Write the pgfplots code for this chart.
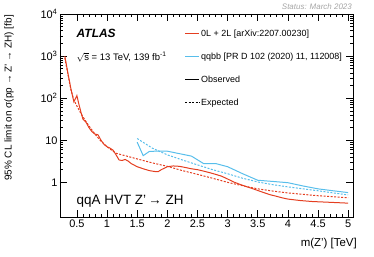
\documentclass[border=0pt]{standalone}
\usepackage{fontspec}
\setmainfont{Liberation Sans}
\usepackage{pgfplots}
\pgfplotsset{compat=1.18}
\usetikzlibrary{calc}

\definecolor{atred}{RGB}{228,62,32}
\definecolor{atblue}{RGB}{88,190,235}
\definecolor{statgray}{RGB}{165,165,165}

\pgfplotstableread{
m    lim
0.30 1000
0.35 400
0.40 170
0.45 82
0.50 115
0.53 75
0.57 45
0.60 32
0.65 27
0.70 20
0.75 16
0.80 14
0.85 13.5
0.90 10
0.95 8
1.00 7
1.05 6.5
1.10 5.8
1.15 4.5
1.20 3.4
1.25 3.3
1.30 3.5
1.35 3.2
1.40 2.8
1.50 2.35
1.60 2.1
1.70 1.9
1.80 1.8
1.85 1.8
1.90 2.0
2.00 2.35
2.10 2.45
2.20 2.4
2.30 2.25
2.40 2.1
2.50 2.0
2.60 1.85
2.70 1.7
2.80 1.55
2.90 1.4
3.00 1.2
3.10 1.02
3.20 0.9
3.30 0.8
3.40 0.72
3.50 0.64
3.60 0.57
3.70 0.51
3.80 0.47
3.90 0.43
4.00 0.40
4.20 0.37
4.40 0.35
4.60 0.34
4.80 0.33
5.00 0.32
}\redobs

\pgfplotstableread{
m    lim
0.30 900
0.35 380
0.40 160
0.45 90
0.50 65
0.55 48
0.60 36
0.65 28
0.70 22
0.75 17.5
0.80 14
0.85 11.5
0.90 9.5
0.95 8.2
1.00 7
1.05 6.2
1.10 5.5
1.15 4.9
1.30 4.3
1.50 3.6
1.75 2.9
2.00 2.4
2.25 1.9
2.50 1.55
2.75 1.25
3.00 1.0
3.25 0.83
3.50 0.70
3.75 0.62
4.00 0.56
4.50 0.48
5.00 0.43
}\redexp

\pgfplotstableread{
m    lim
1.50 9
1.60 4.3
1.70 5.4
1.80 5.5
2.00 5.5
2.20 4.8
2.40 4.2
2.60 2.8
2.80 2.8
3.00 2.35
3.25 1.6
3.50 1.12
3.75 1.05
4.00 0.98
4.25 0.82
4.50 0.70
4.75 0.63
5.00 0.57
}\blueobs

\pgfplotstableread{
m    lim
1.50 11
1.75 6.5
2.00 4.5
2.25 3.4
2.50 2.6
2.75 2.0
3.00 1.6
3.25 1.25
3.50 1.02
3.75 0.88
4.00 0.78
4.50 0.63
5.00 0.50
}\blueexp

\begin{document}
\begin{tikzpicture}
\begin{axis}[
  name=ax,
  scale only axis,
  width=293bp, height=203bp,
  ymode=log,
  xmin=0.22, xmax=5.08,
  ymin=0.15, ymax=10000,
  xtick={0.5,1,...,5},
  minor x tick num=4,
  ytick={1,10,100,1000,10000},
  yticklabels={1,10,10\textsuperscript{2},10\textsuperscript{3},10\textsuperscript{4}},
  tick align=inside,
  major tick length=7bp,
  minor tick length=3.5bp,
  tick style={black, line width=0.5pt},
  axis line style={line width=0.6pt},
  /pgf/number format/assume math mode=true,
  tick label style={font=\fontsize{11}{13}\selectfont},
  xticklabel style={yshift=1bp},
  yticklabel style={xshift=1bp},
  legend image code/.code={\draw[#1] (0bp,0bp) -- (14bp,0bp);},
  legend style={at={(rel axis cs:0.425,0.925)}, anchor=north west,
    draw=none, fill=none, inner sep=0pt,
    font=\fontsize{9}{10}\selectfont, row sep=14bp,
    nodes={inner xsep=1.5bp, inner ysep=0pt, text height=7bp, text depth=2bp}},
  legend cell align=left,
]
\addplot[atred, line width=1pt, forget plot] table[x=m, y=lim] {\redobs};
\addplot[atred, line width=1pt, dash pattern=on 2pt off 1.5pt, forget plot] table[x=m, y=lim] {\redexp};
\addplot[atblue, line width=1pt, forget plot] table[x=m, y=lim] {\blueobs};
\addplot[atblue, line width=1pt, dash pattern=on 2pt off 1.5pt, forget plot] table[x=m, y=lim] {\blueexp};

\addlegendimage{atred, line width=1pt}
\addlegendentry{0L + 2L [arXiv:2207.00230]}
\addlegendimage{atblue, line width=1pt}
\addlegendentry{qqbb [PR D 102 (2020) 11, 112008]}
\addlegendimage{black, line width=1pt}
\addlegendentry{Observed}
\addlegendimage{black, line width=1pt, dash pattern=on 2pt off 1.5pt}
\addlegendentry{Expected}

\node[anchor=west, font=\fontsize{12}{14}\selectfont\bfseries\itshape] at (rel axis cs:0.045,0.906) {ATLAS};
\node[anchor=west, font=\fontsize{9.5}{11}\selectfont] at (rel axis cs:0.045,0.788) {$\sqrt{\mathrm{s}}$ = 13 TeV, 139 fb\textsuperscript{-1}};
\node[anchor=west, font=\fontsize{13.5}{15}\selectfont] at (rel axis cs:0.045,0.079) {qqA HVT Z'\,→ ZH};
\end{axis}
\node[anchor=south east, font=\fontsize{8}{9}\selectfont\itshape, text=statgray, inner sep=0pt] at ([xshift=-1bp,yshift=4bp]ax.north east) {Status: March 2023};
\node[rotate=90, anchor=east, font=\fontsize{10}{12}\selectfont, inner sep=0pt] at ([xshift=-51bp,yshift=-1bp]ax.north west) {95\% CL limit on σ(pp → Z' → ZH) [fb]};
\node[anchor=east, font=\fontsize{11.5}{13}\selectfont, inner sep=0pt] at ([xshift=4bp,yshift=-27bp]ax.south east) {m(Z') [TeV]};
\pgfresetboundingbox
\path[use as bounding box] ([xshift=-60bp,yshift=-40bp]ax.south west) rectangle ([xshift=21bp,yshift=14bp]ax.north east);
\end{tikzpicture}
\end{document}
